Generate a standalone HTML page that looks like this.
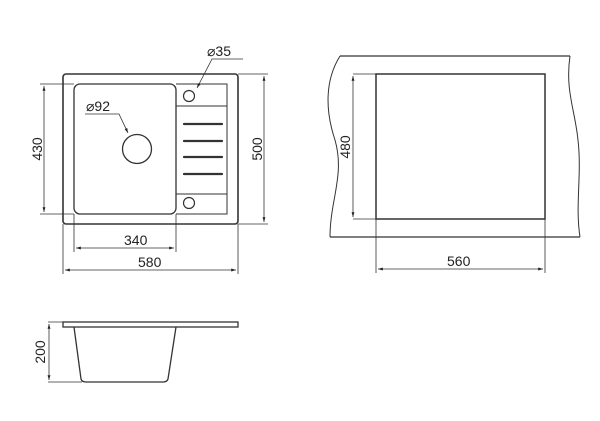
<!DOCTYPE html>
<html><head><style>body{margin:0;background:#fff}svg{display:block}text{font-family:"Liberation Sans",sans-serif;font-size:14px;fill:#222}</style></head><body>
<svg width="600" height="421" viewBox="0 0 600 421" xmlns="http://www.w3.org/2000/svg">
<defs><marker id="a" viewBox="0 0 10 10" refX="10" refY="5" markerWidth="8" markerHeight="6" orient="auto-start-reverse"><path d="M0,2 L10,5 L0,8z" fill="#222"/></marker></defs>
<g fill="none" stroke="#333">
<rect x="63" y="74" width="175" height="150" rx="3" stroke-width="1.6"/>
<rect x="74" y="84" width="102" height="130" rx="6" stroke-width="1.3"/>
<path d="M176 84H227V214H176M176 106H227M176 194H227" stroke-width="1"/>
<circle cx="189" cy="96" r="5.5" stroke-width="1.2"/><circle cx="189" cy="203" r="5.5" stroke-width="1.2"/>
<circle cx="137" cy="149" r="14.5" stroke-width="1.3"/>
<g stroke-width="2.2" stroke-linecap="round"><path d="M184 124H222M184 141H222M184 157H222M184 174H222"/></g>
<g stroke-width="0.8">
<path d="M40 84H74M40 214H74"/><path d="M44 86V212" marker-start="url(#a)" marker-end="url(#a)"/>
<path d="M238 74H268M238 224H268"/><path d="M264 76V222" marker-start="url(#a)" marker-end="url(#a)"/>
<path d="M74 214V252M176 214V252"/><path d="M76 248H174" marker-start="url(#a)" marker-end="url(#a)"/>
<path d="M63 224V274M238 224V274"/><path d="M65 270H236" marker-start="url(#a)" marker-end="url(#a)"/>
<path d="M85 114H119L128 133" marker-end="url(#a)"/><path d="M243 59H212L197 88" marker-end="url(#a)"/>
<path d="M353 74H376M353 219H376"/><path d="M353 76V217" marker-start="url(#a)" marker-end="url(#a)"/>
<path d="M376 219V273M545 219V273"/><path d="M378 269H543" marker-start="url(#a)" marker-end="url(#a)"/>
<path d="M48 322H63M48 382H82"/><path d="M49 324V380" marker-start="url(#a)" marker-end="url(#a)"/>
</g>
<path d="M340 56H570M330 237H580" stroke-width="1.2"/>
<path d="M340 56C325 80 325 110 335 140C345 175 330 200 330 237M570 56C565 90 575 110 578 140C582 175 575 205 580 237" stroke-width="1"/>
<rect x="376" y="74" width="169" height="145" stroke-width="1.5"/>
<rect x="63" y="322" width="175" height="5" stroke-width="1.3"/>
<path d="M74 327L81 379Q82 382 86 382H163Q167 382 168 379L176 327" stroke-width="1.3"/>
</g>
<text x="86" y="111">⌀92</text><text x="207" y="56">⌀35</text>
<text x="124" y="245" text-anchor="start">340</text><text x="138" y="267">580</text><text x="447" y="266">560</text>
<text transform="translate(42,149) rotate(-90)" text-anchor="middle">430</text>
<text transform="translate(262,149) rotate(-90)" text-anchor="middle">500</text>
<text transform="translate(350,147) rotate(-90)" text-anchor="middle">480</text>
<text transform="translate(45,352) rotate(-90)" text-anchor="middle">200</text>
</svg></body></html>
